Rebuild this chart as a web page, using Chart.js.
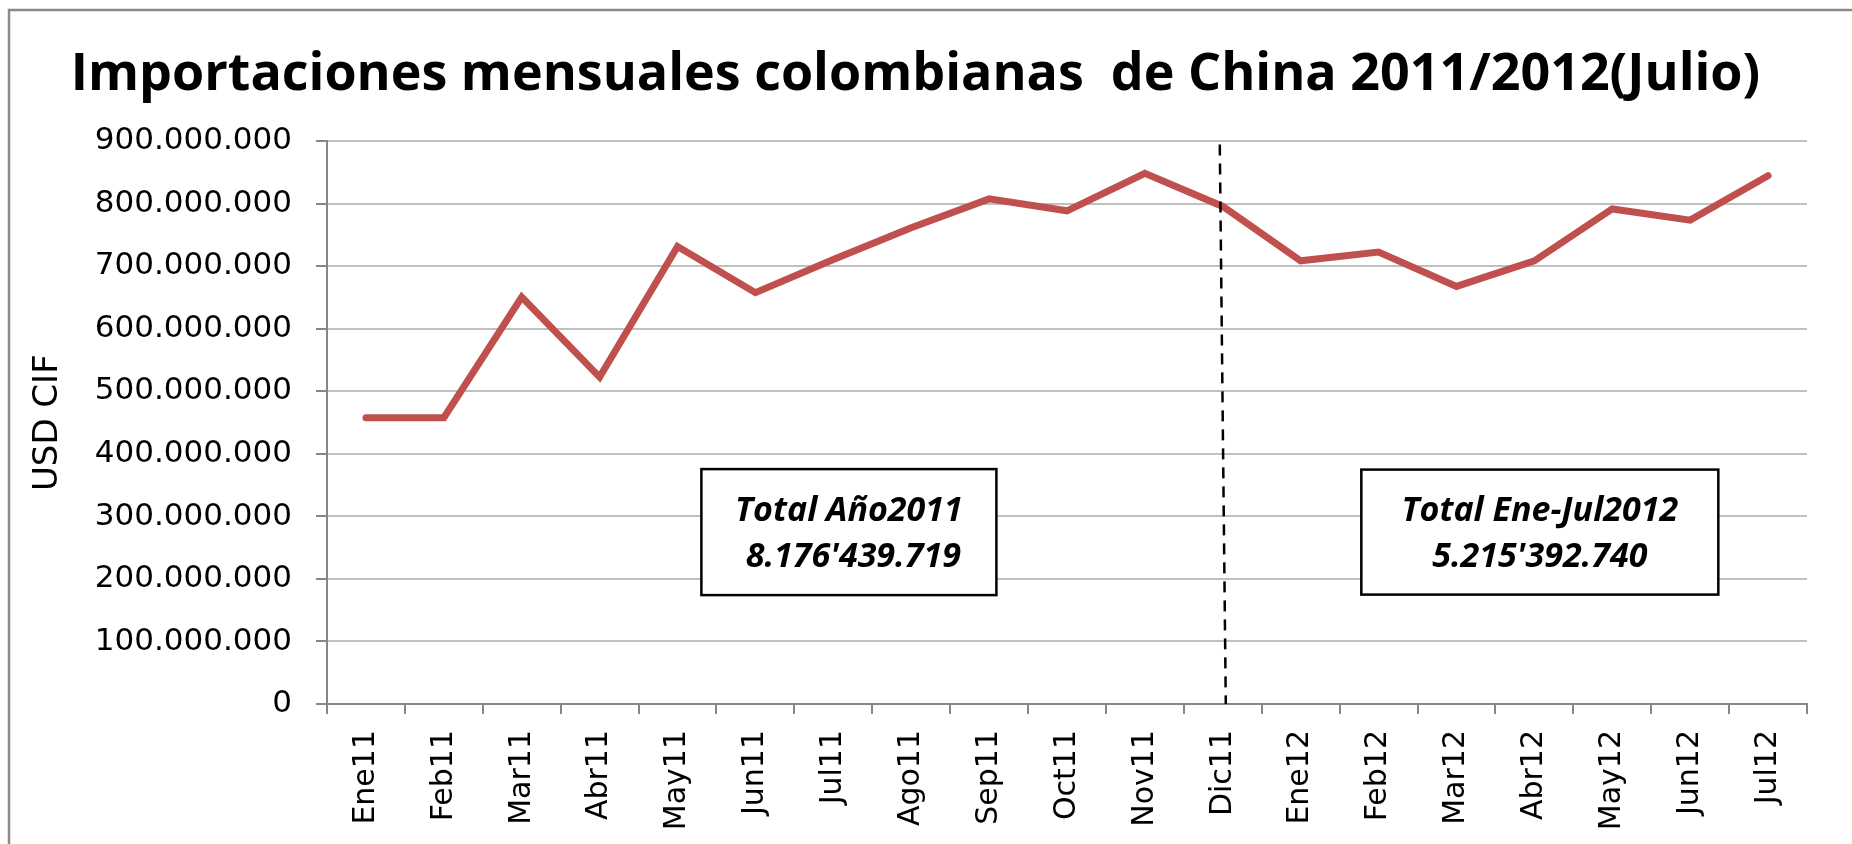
<!DOCTYPE html>
<html>
<head>
<meta charset="utf-8">
<script src="https://cdn.jsdelivr.net/npm/chart.js@4.4.1/dist/chart.umd.min.js"></script>
<style>
  html, body { margin: 0; padding: 0; background: #fff; }
  #wrap { width: 1852px; height: 844px; position: relative; }
</style>
</head>
<body>
<div id="wrap"><canvas id="chart" width="1852" height="844"></canvas></div>
<script>
// monthly imports from China, USD CIF
const months = ["Ene11", "Feb11", "Mar11", "Abr11", "May11", "Jun11", "Jul11", "Ago11", "Sep11", "Oct11", "Nov11", "Dic11",
  "Ene12", "Feb12", "Mar12", "Abr12", "May12", "Jun12", "Jul12"];
const imports_usd = [458e6, 458e6, 651e6, 523e6, 732e6, 658e6, 711e6, 762e6, 808e6, 789e6, 849e6, 796e6,
  709e6, 723e6, 668e6, 709e6, 792e6, 774e6, 845e6];
const y_max = 900e6;
const y_step = 100e6;
const split_month = "Dic11";
const total_2011 = ["Total Año2011", " 8.176'439.719"];
const total_2012 = ["Total Ene-Jul2012", "5.215'392.740"];

const axis_grey = "#868686";
const grid_grey = "#c0c0c0";

function dotted_thousands(v) {
  return String(Math.round(v)).replace(/\B(?=(\d{3})+(?!\d))/g, ".");
}

const frame_plugin = {
  id: "frame",
  beforeDraw(chart) {
    const { ctx } = chart;
    ctx.save();
    ctx.fillStyle = "#fff";
    ctx.fillRect(0, 0, chart.width, chart.height);
    ctx.strokeStyle = "#8a8a8a";
    ctx.lineWidth = 2.5;
    ctx.beginPath();
    ctx.moveTo(9, chart.height + 5);
    ctx.lineTo(9, 10);
    ctx.lineTo(chart.width + 5, 10);
    ctx.stroke();
    ctx.restore();
  },
};

const marks_plugin = {
  id: "marks",
  afterDatasetsDraw(chart) {
    const { ctx, chartArea } = chart;
    const x = chart.scales.x;
    const y = chart.scales.y;

    // dashed separator at December 2011
    const sx = x.getPixelForValue(months.indexOf(split_month));
    ctx.save();
    ctx.strokeStyle = "#000";
    ctx.lineWidth = 2.5;
    ctx.setLineDash([11, 8]);
    ctx.beginPath();
    ctx.moveTo(sx - 3, chartArea.top + 3);
    ctx.lineTo(sx + 3, chartArea.bottom);
    ctx.stroke();
    ctx.restore();

    // total boxes
    const boxes = [
      { lines: total_2011, at: 6.2, w: 295, h: 126 },
      { lines: total_2012, at: 15.07, w: 357, h: 125 },
    ];
    boxes.forEach((b) => {
      const cx = x.getPixelForValue(b.at);
      const cy = y.getPixelForValue(275e6);
      ctx.save();
      ctx.fillStyle = "#fff";
      ctx.fillRect(cx - b.w / 2, cy - b.h / 2, b.w, b.h);
      ctx.strokeStyle = "#000";
      ctx.lineWidth = 2.5;
      ctx.strokeRect(cx - b.w / 2, cy - b.h / 2, b.w, b.h);
      ctx.fillStyle = "#000";
      ctx.font = "italic bold 34px 'Open Sans'";
      ctx.textAlign = "center";
      ctx.textBaseline = "middle";
      ctx.fillText(b.lines[0], cx, cy - 21);
      ctx.fillText(b.lines[1], cx, cy + 25);
      ctx.restore();
    });
  },
};

new Chart(document.getElementById("chart"), {
  type: "line",
  data: {
    labels: months,
    datasets: [{
      data: imports_usd,
      borderColor: "#c0504d",
      borderWidth: 7,
      borderCapStyle: "round",
      borderJoinStyle: "miter",
      pointRadius: 0,
      tension: 0,
    }],
  },
  options: {
    responsive: false,
    animation: false,
    layout: { padding: { left: 24, right: 45, top: 8, bottom: 0 } },
    plugins: {
      legend: { display: false },
      tooltip: { enabled: false },
      title: {
        display: true,
        text: "Importaciones mensuales colombianas  de China 2011/2012(Julio)",
        color: "#000",
        font: { family: "'Open Sans'", size: 52, weight: "bold" },
        padding: { top: 36, bottom: 35 },
      },
    },
    scales: {
      x: {
        offset: true,
        grid: { offset: true, drawOnChartArea: false, tickLength: 10, color: axis_grey, lineWidth: 2 },
        border: { color: axis_grey, width: 2 },
        ticks: {
          color: "#000",
          font: { family: "'DejaVu Sans'", size: 30 },
          minRotation: 90,
          maxRotation: 90,
          padding: 16,
          autoSkip: false,
        },
        afterFit(scale) { scale.height = 140; },
      },
      y: {
        min: 0,
        max: y_max,
        grid: { color: grid_grey, lineWidth: 2, tickLength: 11, tickColor: axis_grey },
        border: { color: axis_grey, width: 2 },
        ticks: {
          stepSize: y_step,
          color: "#000",
          font: { family: "'DejaVu Sans'", size: 31 },
          padding: 24,
          callback: (v) => dotted_thousands(v),
        },
        title: {
          display: true,
          text: "USD CIF",
          color: "#000",
          font: { family: "'DejaVu Sans'", size: 34 },
        },
        afterFit(scale) { scale.width = 303; },
      },
    },
  },
  plugins: [frame_plugin, marks_plugin],
});
</script>
</body>
</html>
